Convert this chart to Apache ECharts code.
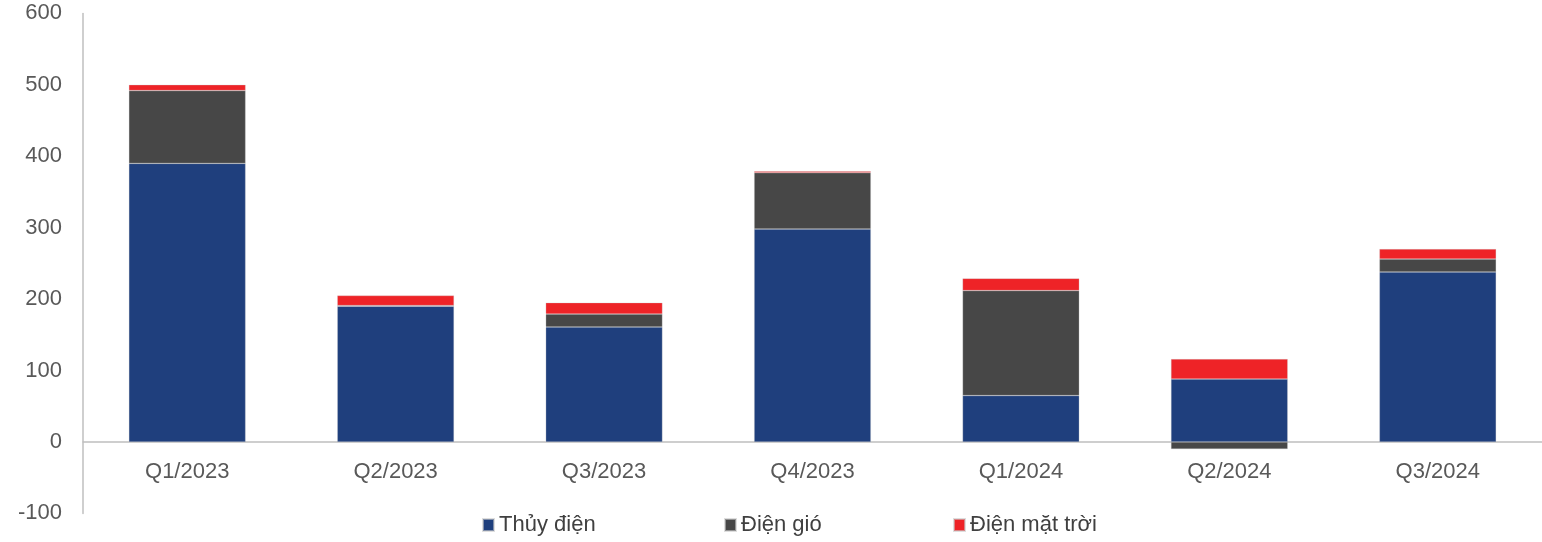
<!DOCTYPE html>
<html>
<head>
<meta charset="utf-8">
<script src="https://cdn.jsdelivr.net/npm/echarts@6/dist/echarts.min.js"></script>
<style>
html,body{margin:0;padding:0;background:#fff;}
#c{width:1542px;height:542px;}
</style>
</head>
<body>
<div id="c"></div>
<script>
const categories = ['Q1/2023','Q2/2023','Q3/2023','Q4/2023','Q1/2024','Q2/2024','Q3/2024'];
const hydro = [390, 190, 161, 298, 65, 88, 238];
const wind = [102, 1, 18, 79, 147, -10, 18];
const solar = [8, 14, 16, 2, 17, 28, 14];
const yTicks = {min: -100, max: 600, interval: 100};
const legendNames = ['Thủy điện','Điện gió','Điện mặt trời'];

const chart = echarts.init(document.getElementById('c'));
const font = '"Liberation Sans", Arial, sans-serif';
const itemStyleBase = {borderColor: 'rgba(200,200,200,0.6)', borderWidth: 0.5};
const legendLefts = [482, 724, 953];
chart.setOption({
  animation: false,
  textStyle: {fontFamily: font},
  grid: {left: 83, right: 0, top: 13.4, bottom: 28.6, outerBoundsMode: 'none', containLabel: false},
  legend: legendNames.map((n, i) => ({
    left: legendLefts[i], top: 514, padding: 0,
    itemWidth: 11, itemHeight: 12,
    icon: 'rect',
    textStyle: {fontSize: 22, color: '#404040', fontFamily: font},
    data: [n]
  })),
  xAxis: {
    type: 'category', data: categories,
    axisLine: {onZero: true, lineStyle: {color: '#BFBFBF', width: 1.5}},
    axisTick: {show: false},
    axisLabel: {fontSize: 22, color: '#595959', margin: -52}
  },
  yAxis: {
    type: 'value', min: yTicks.min, max: yTicks.max, interval: yTicks.interval,
    axisLine: {show: true, lineStyle: {color: '#BFBFBF', width: 1.5}},
    axisTick: {show: false},
    splitLine: {show: false},
    axisLabel: {fontSize: 22, color: '#595959', margin: 21}
  },
  series: [
    {name: 'Thủy điện', type: 'bar', stack: 'a', barWidth: '56%', data: hydro,
     itemStyle: Object.assign({color: '#1F3F7D'}, itemStyleBase)},
    {name: 'Điện gió', type: 'bar', stack: 'a', data: wind,
     itemStyle: Object.assign({color: '#474747'}, itemStyleBase)},
    {name: 'Điện mặt trời', type: 'bar', stack: 'a', data: solar,
     itemStyle: Object.assign({color: '#EE2327'}, itemStyleBase)}
  ]
});
</script>
</body>
</html>
